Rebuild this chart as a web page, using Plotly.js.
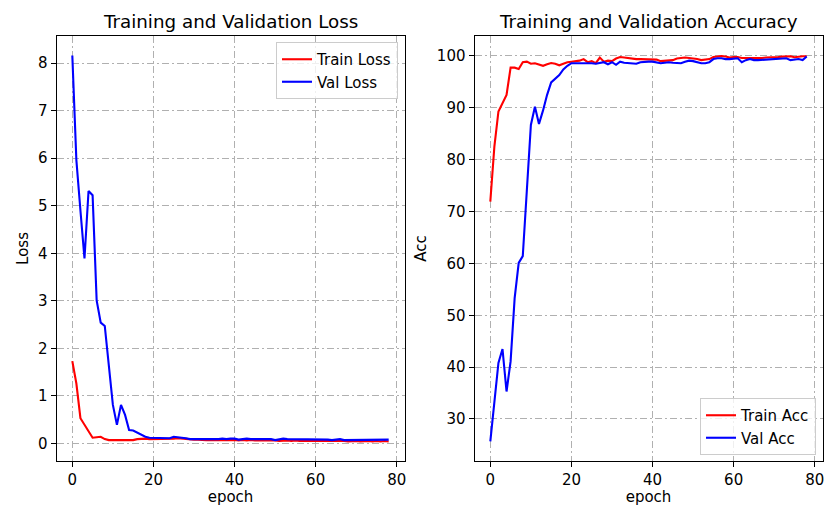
<!DOCTYPE html>
<html>
<head>
<meta charset="utf-8">
<script src="https://cdn.plot.ly/plotly-3.0.1.min.js"></script>
<style>html,body{margin:0;padding:0;background:#fff;}#chart{width:824px;height:506px;}</style>
</head>
<body>
<div id="chart"></div>
<script>
const epochs = Array.from({length: 79}, (_, i) => i);

const trainLoss = [1.73, 1.26, 0.53, 0.39, 0.28, 0.12, 0.13, 0.14, 0.09, 0.07,
  0.07, 0.07, 0.07, 0.06, 0.06, 0.07, 0.09, 0.10, 0.10, 0.09,
  0.09, 0.10, 0.09, 0.09, 0.10, 0.10, 0.11, 0.10, 0.09, 0.08,
  0.08, 0.08, 0.07, 0.07, 0.07, 0.07, 0.08, 0.07, 0.07, 0.08,
  0.07, 0.06, 0.07, 0.06, 0.07, 0.06, 0.06, 0.07, 0.06, 0.06,
  0.06, 0.05, 0.06, 0.06, 0.05, 0.06, 0.05, 0.05, 0.06, 0.05,
  0.06, 0.05, 0.05, 0.06, 0.05, 0.05, 0.05, 0.05, 0.04, 0.05,
  0.05, 0.04, 0.05, 0.05, 0.04, 0.05, 0.04, 0.05, 0.04];

const valLoss = [8.16, 5.96, 4.90, 3.89, 5.31, 5.22, 3.01, 2.54, 2.47, 1.61,
  0.81, 0.39, 0.81, 0.60, 0.28, 0.27, 0.23, 0.18, 0.14, 0.12,
  0.12, 0.11, 0.11, 0.12, 0.11, 0.14, 0.13, 0.13, 0.11, 0.09,
  0.09, 0.09, 0.08, 0.08, 0.09, 0.09, 0.09, 0.10, 0.09, 0.10,
  0.10, 0.08, 0.09, 0.10, 0.09, 0.09, 0.10, 0.09, 0.10, 0.09,
  0.07, 0.08, 0.10, 0.09, 0.09, 0.08, 0.09, 0.08, 0.08, 0.09,
  0.08, 0.09, 0.09, 0.08, 0.07, 0.08, 0.09, 0.07, 0.07, 0.08,
  0.07, 0.08, 0.07, 0.08, 0.07, 0.08, 0.08, 0.08, 0.08];

const trainAcc = [71.9, 82.5, 89.3, 90.9, 92.5, 97.75, 97.75, 97.5, 98.8, 98.9,
  98.5, 98.6, 98.4, 98.1, 98.4, 98.65, 98.5, 98.2, 98.5, 98.8,
  98.9, 99.0, 99.1, 99.4, 98.8, 99.0, 98.6, 99.7, 98.9, 99.1,
  99.0, 99.5, 99.8, 99.7, 99.6, 99.4, 99.4, 99.4, 99.4, 99.4,
  99.4, 99.3, 99.0, 99.1, 99.1, 99.2, 99.5, 99.6, 99.7, 99.6,
  99.55, 99.4, 99.2, 99.3, 99.4, 99.8, 99.9, 100.0, 99.9, 99.7,
  99.8, 99.8, 99.6, 99.6, 99.5, 99.55, 99.5, 99.6, 99.7, 99.7,
  99.75, 99.8, 99.87, 99.95, 99.95, 99.75, 99.9, 99.95, 99.95];

const valAcc = [25.7, 33.4, 40.8, 43.5, 35.3, 41.1, 53.3, 60.1, 61.4, 74.0,
  86.7, 90.2, 86.9, 89.5, 92.5, 94.9, 95.7, 96.3, 97.4, 98.1,
  98.6, 98.6, 98.6, 98.6, 98.7, 98.6, 98.5, 98.6, 98.8, 98.4,
  98.8, 98.3, 98.9, 98.7, 98.6, 98.6, 98.5, 98.8, 98.9, 98.9,
  98.9, 98.7, 98.6, 98.7, 98.8, 98.7, 98.6, 98.6, 98.9, 99.1,
  99.0, 98.8, 98.6, 98.6, 98.8, 99.4, 99.55, 99.55, 99.4, 99.4,
  99.5, 99.55, 98.8, 99.2, 99.4, 99.2, 99.2, 99.25, 99.25, 99.3,
  99.35, 99.4, 99.5, 99.55, 99.2, 99.3, 99.4, 99.2, 99.9];

const subplotTitles = ["Training and Validation Loss", "Training and Validation Accuracy"];
const seriesNames = ["Train Loss", "Val Loss", "Train Acc", "Val Acc"];
const xTitle = "epoch";
const yTitles = ["Loss", "Acc"];

(function () {
const W = 824, H = 506;
const FONT = "DejaVu Sans, Liberation Sans, sans-serif";
const RED = "#ff0000", BLUE = "#0000ff";
const FS = 15, TS = 18.3;

function px(x) { return x / W; }
function py(y) { return 1 - y / H; }

const axTop = 36, axBottom = 461;
const ydom = [py(axBottom), py(axTop)];

const traces = [
  {x: epochs, y: trainLoss, name: seriesNames[0], mode: "lines", line: {color: RED, width: 2.1}, xaxis: "x", yaxis: "y", legend: "legend"},
  {x: epochs, y: valLoss, name: seriesNames[1], mode: "lines", line: {color: BLUE, width: 2.1}, xaxis: "x", yaxis: "y", legend: "legend"},
  {x: epochs, y: trainAcc, name: seriesNames[2], mode: "lines", line: {color: RED, width: 2.1}, xaxis: "x2", yaxis: "y2", legend: "legend2"},
  {x: epochs, y: valAcc, name: seriesNames[3], mode: "lines", line: {color: BLUE, width: 2.1}, xaxis: "x2", yaxis: "y2", legend: "legend2"}
];

function axisCommon() {
  return {
    showline: true, mirror: true, linecolor: "#000", linewidth: 1,
    ticks: "outside", ticklen: 5, tickwidth: 1, tickcolor: "#000",
    showgrid: true, gridcolor: "#b0b0b0", gridwidth: 1, griddash: "7px,3px,2px,3px",
    zeroline: false, ticklabeloverflow: "allow",
    tickfont: {family: FONT, size: FS, color: "#000"}
  };
}

const legendCommon = {
  bgcolor: "rgba(255,255,255,0.8)", bordercolor: "#cccccc", borderwidth: 1,
  font: {family: FONT, size: FS, color: "#000"},
  tracegroupgap: 2, itemwidth: 30
};

const layout = {
  width: W, height: H,
  margin: {l: 0, r: 0, t: 0, b: 0},
  paper_bgcolor: "#fff", plot_bgcolor: "#fff",
  font: {family: FONT, size: FS, color: "#000"},
  showlegend: true,
  xaxis: Object.assign(axisCommon(), {domain: [px(56.5), px(404.5)], range: [-3.9, 81.9], dtick: 20, tick0: 0, anchor: "y",
    title: {text: xTitle, font: {family: FONT, size: FS, color: "#000"}, standoff: 8}}),
  yaxis: Object.assign(axisCommon(), {domain: ydom, range: [-0.37, 8.57], dtick: 1, tick0: 0, anchor: "x",
    title: {text: yTitles[0], font: {family: FONT, size: FS, color: "#000"}, standoff: 5}}),
  xaxis2: Object.assign(axisCommon(), {domain: [px(474.5), px(822.5)], range: [-3.9, 81.9], dtick: 20, tick0: 0, anchor: "y2",
    title: {text: xTitle, font: {family: FONT, size: FS, color: "#000"}, standoff: 8}}),
  yaxis2: Object.assign(axisCommon(), {domain: ydom, range: [21.9, 103.85], dtick: 10, tick0: 0, anchor: "x2",
    title: {text: yTitles[1], font: {family: FONT, size: FS, color: "#000"}, standoff: 6}}),
  legend: Object.assign({}, legendCommon, {x: px(398), xanchor: "right", y: py(42), yanchor: "top"}),
  legend2: Object.assign({}, legendCommon, {x: px(816), xanchor: "right", y: py(455), yanchor: "bottom"}),
  annotations: [
    {text: subplotTitles[0], xref: "paper", yref: "paper", x: px(230.5), y: py(22), xanchor: "center", yanchor: "middle", showarrow: false,
      font: {family: FONT, size: TS, color: "#000"}},
    {text: subplotTitles[1], xref: "paper", yref: "paper", x: px(648.5), y: py(22), xanchor: "center", yanchor: "middle", showarrow: false,
      font: {family: FONT, size: TS, color: "#000"}}
  ]
};

Plotly.newPlot("chart", traces, layout, {staticPlot: true, displayModeBar: false});
})();
</script>
</body>
</html>
